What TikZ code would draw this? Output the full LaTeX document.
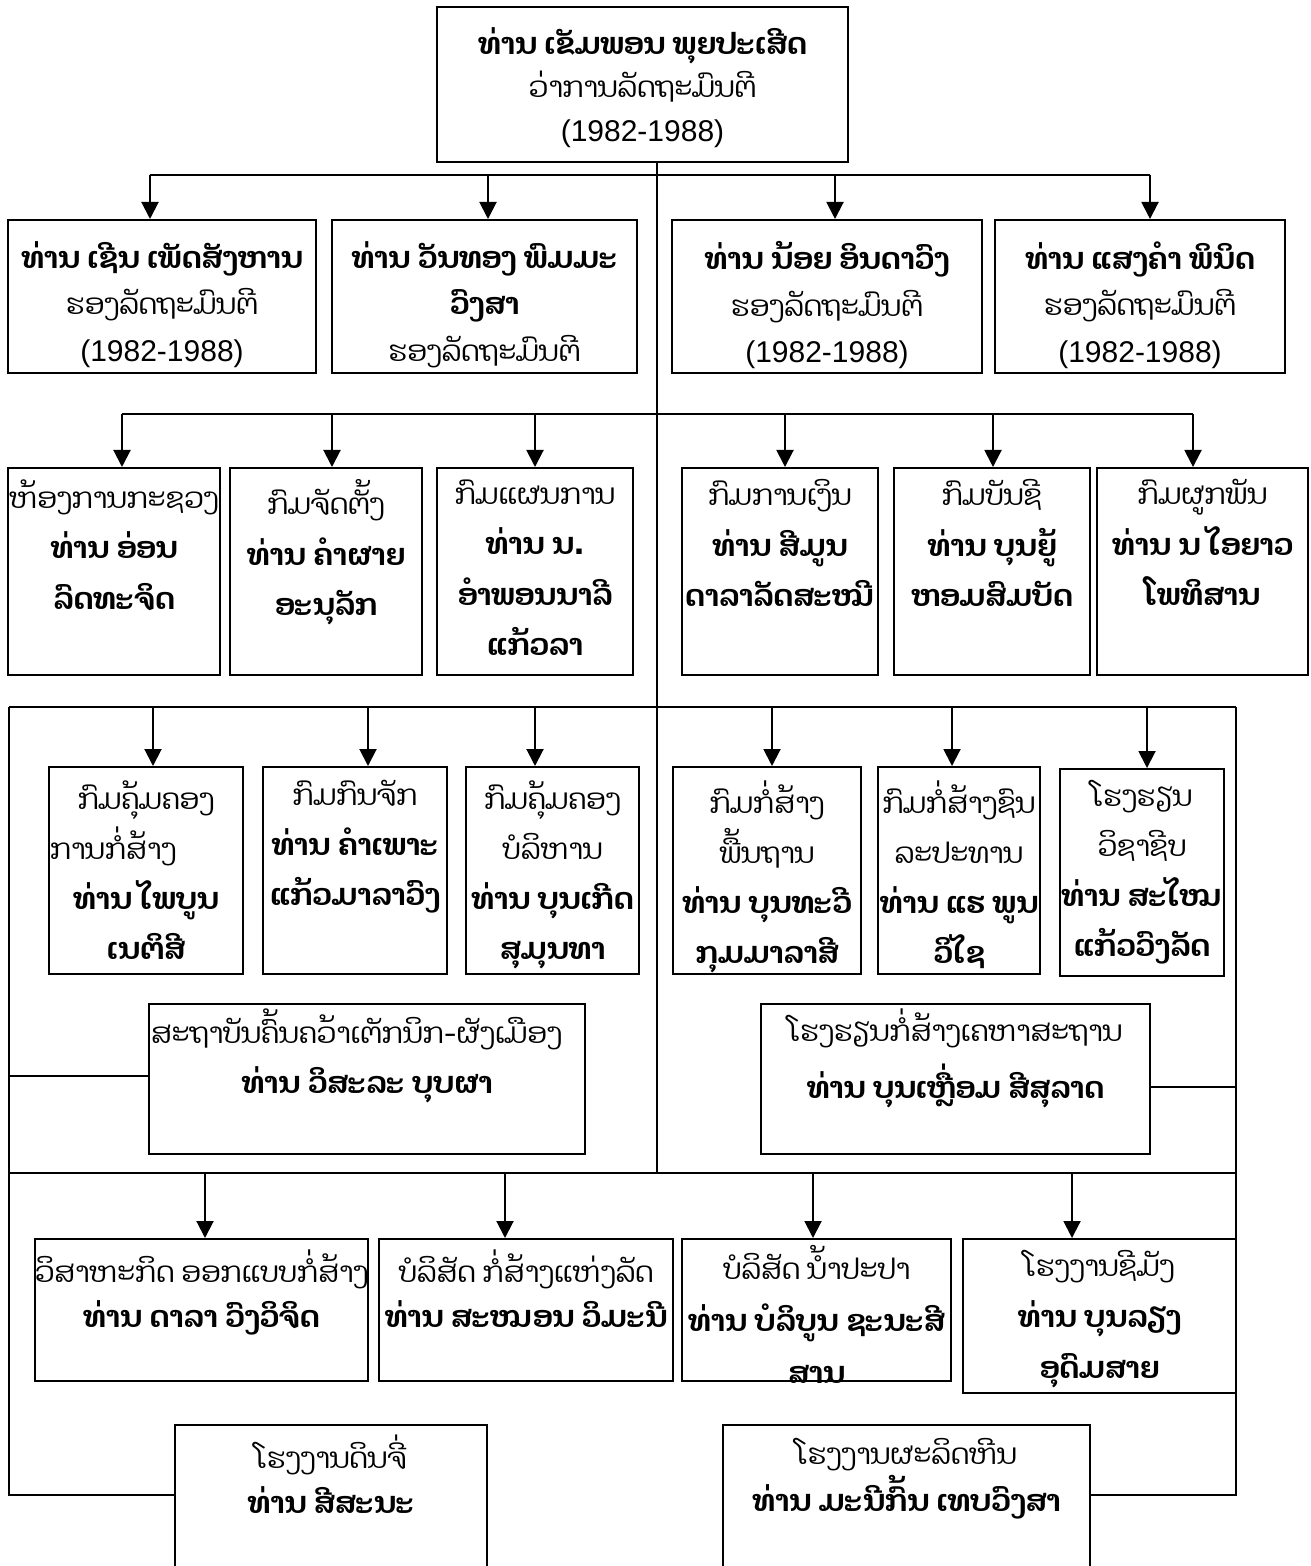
\documentclass[tikz,border=0pt]{standalone}
\usepackage{fontspec}
\newfontfamily\laofnt[Script=Lao,Scale=0.95]{Dhyana}
\newfontfamily\laobfnt[Script=Lao]{Dhyana}
\newfontfamily\numfnt{Liberation Sans}
\usetikzlibrary{arrows.meta,calc,fit}
\newcommand\bln[1]{{\laobfnt\bfseries #1}}
\newcommand\yrs{{\numfnt (1982-1988)}}
\tikzset{
 box/.style={draw, line width=1pt, inner sep=0pt},
 conn/.style={line width=1pt},
 arr/.style={line width=1pt, -{Triangle[length=8.5pt,width=8.5pt]}},
 txt/.style={align=center, inner sep=0pt, anchor=north,
   font={\laofnt\fontsize{15}{#1}\selectfont\lineskiplimit=-100pt},
   execute at begin node={\rule{0pt}{16pt}}},
}
\begin{document}
\begin{tikzpicture}[x=0.5pt,y=-0.5pt]
\useasboundingbox (0,0) rectangle (1310,1566);
\fill[white] (0,0) rectangle (1310,1566);
\clip (0,0) rectangle (1310,1566);
% boxes
\node[box, fit={(437,7) (848,162)}] (top) {};
\node[box, fit={(8,220) (316,373)}] (A) {};
\node[box, fit={(332,220) (637,373)}] (B) {};
\node[box, fit={(672,220) (982,373)}] (C) {};
\node[box, fit={(995,220) (1285,373)}] (D) {};
\node[box, fit={(8,468) (220,675)}] (E) {};
\node[box, fit={(230,468) (422,675)}] (F) {};
\node[box, fit={(437,468) (633,675)}] (G) {};
\node[box, fit={(682,468) (878,675)}] (H) {};
\node[box, fit={(894,468) (1090,675)}] (I) {};
\node[box, fit={(1097,468) (1308,675)}] (J) {};
\node[box, fit={(49,767) (243,974)}] (K) {};
\node[box, fit={(263,767) (447,974)}] (L) {};
\node[box, fit={(466,767) (639,974)}] (M) {};
\node[box, fit={(673,767) (861,974)}] (N) {};
\node[box, fit={(878,767) (1040,974)}] (O) {};
\node[box, fit={(1060,769) (1224,976)}] (P) {};
\node[box, fit={(149,1004) (585,1154)}] (Q) {};
\node[box, fit={(761,1004) (1150,1154)}] (R) {};
\node[box, fit={(35,1239) (368,1381)}] (S) {};
\node[box, fit={(379,1239) (673,1381)}] (T) {};
\node[box, fit={(682,1239) (951,1381)}] (V) {};
\node[box, fit={(963,1239) (1236,1393)}] (W) {};
\node[box, fit={(175,1425) (487,1610)}] (U) {};
\node[box, fit={(723,1425) (1090,1610)}] (X) {};
% texts
\node[txt=21.75pt] (topt) at (top.north |- 0,27) {\bln{ທ່ານ ເຂັມພອນ ພຸຍປະເສີດ}\\ວ່າການລັດຖະມົນຕີ\\\yrs};
\node[txt=23.25pt] (At) at (A.north |- 0,241) {\bln{ທ່ານ ເຊີນ ເພັດສັງຫານ}\\ຮອງລັດຖະມົນຕີ\\\yrs};
\node[txt=23.25pt] (Bt) at (B.north |- 0,241) {\bln{ທ່ານ ວັນທອງ ພົມມະ}\\\bln{ວົງສາ}\\ຮອງລັດຖະມົນຕີ};
\node[txt=23.25pt] (Ct) at (C.north |- 0,241) {\bln{ທ່ານ ນ້ອຍ ອິນດາວົງ}\\ຮອງລັດຖະມົນຕີ\\\yrs};
\node[txt=23.25pt] (Dt) at (D.north |- 0,241) {\bln{ທ່ານ ແສງຄຳ ພິນິດ}\\ຮອງລັດຖະມົນຕີ\\\yrs};
\node[txt=25.3pt] (Et) at (E.north |- 0,479) {ຫ້ອງການກະຊວງ\\\bln{ທ່ານ ອ່ອນ}\\\bln{ລົດທະຈິດ}};
\node[txt=25.3pt] (Ft) at (F.north |- 0,479) {ກົມຈັດຕັ້ງ\\\bln{ທ່ານ ຄຳຜາຍ}\\\bln{ອະນຸລັກ}};
\node[txt=25.3pt] (Gt) at (G.north |- 0,479) {ກົມແຜນການ\\\bln{ທ່ານ ນ.}\\\bln{ອຳພອນນາລີ}\\\bln{ແກ້ວລາ}};
\node[txt=25.3pt] (Ht) at (H.north |- 0,479) {ກົມການເງິນ\\\bln{ທ່ານ ສີມູນ}\\\bln{ດາລາລັດສະໝີ}};
\node[txt=25.3pt] (It) at (I.north |- 0,479) {ກົມບັນຊີ\\\bln{ທ່ານ ບຸນຍູ້}\\\bln{ຫອມສົມບັດ}};
\node[txt=25.3pt] (Jt) at (J.north |- 0,479) {ກົມຜູກພັນ\\\bln{ທ່ານ ນ ໄອຍາວ}\\\bln{ໂພທິສານ}};
\node[txt=25pt] (Kt) at (K.north |- 0,780) {ກົມຄຸ້ມຄອງ\\\makebox[96pt][l]{ການກໍ່ສ້າງ}\\\bln{ທ່ານ ໄພບູນ}\\\bln{ເນຕິສີ}};
\node[txt=25pt] (Lt) at (L.north |- 0,780) {ກົມກົນຈັກ\\\bln{ທ່ານ ຄຳເພາະ}\\\bln{ແກ້ວມາລາວົງ}};
\node[txt=25pt] (Mt) at (M.north |- 0,780) {ກົມຄຸ້ມຄອງ\\ບໍລິຫານ\\\bln{ທ່ານ ບຸນເກີດ}\\\bln{ສຸມຸນທາ}};
\node[txt=25pt] (Nt) at (N.north |- 0,780) {ກົມກໍ່ສ້າງ\\ພື້ນຖານ\\\bln{ທ່ານ ບຸນທະວີ}\\\bln{ກຸມມາລາສີ}};
\node[txt=25pt] (Ot) at (O.north |- 0,780) {ກົມກໍ່ສ້າງຊົນ\\ລະປະທານ\\\bln{ທ່ານ ແຮ ພູນ}\\\bln{ວິໄຊ}};
\node[txt=25pt] (Pt) at (P.north |- 0,780) {ໂຮງຮຽນ\\ວິຊາຊີບ\\\bln{ທ່ານ ສະໄໝ}\\\bln{ແກ້ວວົງລັດ}};
\node[txt=25pt] (Qt) at (Q.north |- 0,1008) {\makebox[216pt][l]{ສະຖາບັນຄົ້ນຄວ້າເຕັກນິກ-ຜັງເມືອງ}\\\bln{ທ່ານ ວິສະລະ ບຸບຜາ}};
\node[txt=28.5pt] (Rt) at (R.north |- 0,1008) {ໂຮງຮຽນກໍ່ສ້າງເຄຫາສະຖານ\\\bln{ທ່ານ ບຸນເຫຼື່ອມ ສີສຸລາດ}};
\node[txt=22.5pt] (St) at (S.north |- 0,1249) {ວິສາຫະກິດ ອອກແບບກໍ່ສ້າງ\\\bln{ທ່ານ ດາລາ ວົງວິຈິດ}};
\node[txt=22.5pt] (Tt) at (T.north |- 0,1249) {ບໍລິສັດ ກໍ່ສ້າງແຫ່ງລັດ\\\bln{ທ່ານ ສະໝອນ ວິມະນີ}};
\node[txt=26pt] (Vt) at (V.north |- 0,1245) {ບໍລິສັດ ນ້ຳປະປາ\\\bln{ທ່ານ ບໍລິບູນ ຊະນະສີ}\\\bln{ສານ}};
\node[txt=25.5pt] (Wt) at (W.north |- 0,1250) {ໂຮງງານຊີມັງ\\\bln{ທ່ານ ບຸນລຽງ}\\\bln{ອຸດົມສາຍ}};
\node[txt=22.5pt] (Ut) at (U.north |- 0,1434) {ໂຮງງານດິນຈີ່\\\bln{ທ່ານ ສີສະນະ}};
\node[txt=23.5pt] (Xt) at (X.north |- 0,1438) {ໂຮງງານຜະລິດຫີນ\\\bln{ທ່ານ ມະນີກົ້ນ ເທບວົງສາ}};
% connector coordinates
\coordinate (tr) at (657,1173);
\coordinate (a1) at (150,175); \coordinate (a2) at (488,175);
\coordinate (a3) at (835,175); \coordinate (a4) at (1150,175);
\coordinate (b1) at (122,414); \coordinate (b2) at (332,414); \coordinate (b3) at (535,414);
\coordinate (b4) at (785,414); \coordinate (b5) at (993,414); \coordinate (b6) at (1193,414);
\coordinate (c0) at (9,707); \coordinate (c7) at (1236,707);
\coordinate (c1) at (153,707); \coordinate (c2) at (368,707); \coordinate (c3) at (535,707);
\coordinate (c4) at (772,707); \coordinate (c5) at (952,707); \coordinate (c6) at (1147,707);
\coordinate (d0) at (9,1173); \coordinate (d5) at (1236,1173);
\coordinate (d1) at (205,1173); \coordinate (d2) at (505,1173);
\coordinate (d3) at (813,1173); \coordinate (d4) at (1072,1173);
\coordinate (e0) at (9,1495); \coordinate (e1) at (1236,1495);
\coordinate (qq) at (9,1076); \coordinate (rr) at (1236,1087);
% trunk and buses
\draw[conn] (top.south -| tr) -- (tr);
\draw[conn] (a1) -- (a4);
\draw[conn] (b1) -- (b6);
\draw[conn] (c0) -- (c7);
\draw[conn] (d0) -- (d5);
\draw[conn] (c0) -- (e0) -- (e0 -| U.west);
\draw[conn] (c7) -- (e1) -- (e1 -| X.east);
\draw[conn] (qq) -- (qq -| Q.west);
\draw[conn] (rr) -- (rr -| R.east);
% arrows
\draw[arr] (a1) -- (a1 |- A.north);
\draw[arr] (a2) -- (a2 |- B.north);
\draw[arr] (a3) -- (a3 |- C.north);
\draw[arr] (a4) -- (a4 |- D.north);
\draw[arr] (b1) -- (b1 |- E.north);
\draw[arr] (b2) -- (b2 |- F.north);
\draw[arr] (b3) -- (b3 |- G.north);
\draw[arr] (b4) -- (b4 |- H.north);
\draw[arr] (b5) -- (b5 |- I.north);
\draw[arr] (b6) -- (b6 |- J.north);
\draw[arr] (c1) -- (c1 |- K.north);
\draw[arr] (c2) -- (c2 |- L.north);
\draw[arr] (c3) -- (c3 |- M.north);
\draw[arr] (c4) -- (c4 |- N.north);
\draw[arr] (c5) -- (c5 |- O.north);
\draw[arr] (c6) -- (c6 |- P.north);
\draw[arr] (d1) -- (d1 |- S.north);
\draw[arr] (d2) -- (d2 |- T.north);
\draw[arr] (d3) -- (d3 |- V.north);
\draw[arr] (d4) -- (d4 |- W.north);
\end{tikzpicture}
\end{document}
